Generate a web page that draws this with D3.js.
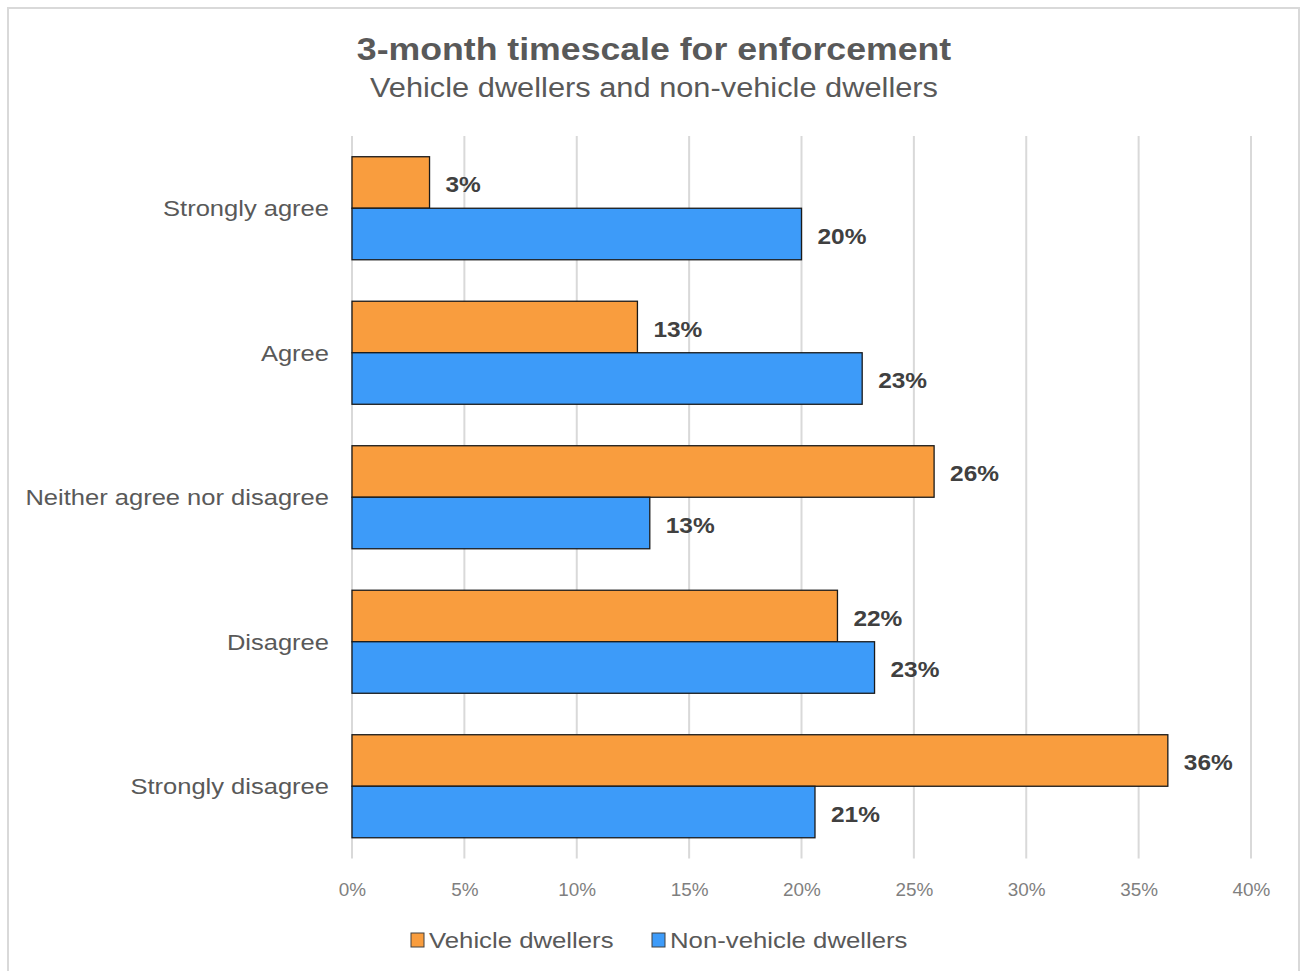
<!DOCTYPE html>
<html><head><meta charset="utf-8">
<script src="https://cdn.jsdelivr.net/npm/d3@7"></script>
<style>body{margin:0;background:#fff;}svg{display:block;font-family:"Liberation Sans",Arial,sans-serif;}</style>
</head><body>
<svg id="c" width="1303" height="971"></svg>
<script>
const categories = ["Strongly agree","Agree","Neither agree nor disagree","Disagree","Strongly disagree"];
const seriesNames = ["Vehicle dwellers","Non-vehicle dwellers"];
const vehicle = [3.45, 12.7, 25.9, 21.6, 36.3];
const nonVehicle = [20.0, 22.7, 13.25, 23.25, 20.6];
const colors = ["#F99D3E","#3D9BF9"];
const ticks = [0,5,10,15,20,25,30,35,40];

const svg = d3.select("#c");
function stretch(sel, f){
  sel.each(function(){
    const w = this.getComputedTextLength();
    d3.select(this).attr("textLength", w*f).attr("lengthAdjust","spacingAndGlyphs");
  });
}
// outer border
svg.append("rect").attr("x",8).attr("y",8).attr("width",1291).attr("height",975)
  .attr("fill","#fff").attr("stroke","#d9d9d9").attr("stroke-width",2);

const m = {left:352, right:1251, top:136, bottom:858.5};
const x = d3.scaleLinear().domain([0,40]).range([m.left,m.right]);
const y = d3.scaleBand().domain(categories).range([m.top,m.bottom]).paddingInner(0.287).paddingOuter(0.1435);
const ys = d3.scaleBand().domain(seriesNames).range([0,y.bandwidth()]);

// title
stretch(svg.append("text").attr("x",654).attr("y",60).attr("text-anchor","middle")
  .attr("font-size",31).attr("font-weight","bold").attr("fill","#595959").text("3-month timescale for enforcement"), 1.15);
stretch(svg.append("text").attr("x",654).attr("y",97).attr("text-anchor","middle")
  .attr("font-size",27).attr("fill","#595959").text("Vehicle dwellers and non-vehicle dwellers"), 1.14);

// gridlines
svg.append("g").selectAll("line").data(ticks).join("line")
  .attr("x1",d=>x(d)).attr("x2",d=>x(d)).attr("y1",m.top).attr("y2",m.bottom)
  .attr("stroke","#d9d9d9").attr("stroke-width",2);

// x axis tick labels
const xAxis = d3.axisBottom(x).tickValues(ticks).tickFormat(d=>d+"%").tickSize(0).tickPadding(0);
const gx = svg.append("g").attr("transform",`translate(0,${m.bottom})`).call(xAxis);
gx.select(".domain").remove();
gx.selectAll("text").attr("font-size",18).attr("fill","#7f7f7f").attr("dy",null).attr("y",37)
  .attr("font-family","Liberation Sans, Arial, sans-serif");
stretch(gx.selectAll("text"),1.05);

// y axis labels
const yAxis = d3.axisLeft(y).tickSize(0).tickPadding(23);
const gy = svg.append("g").attr("transform",`translate(${m.left},1)`).call(yAxis);
gy.select(".domain").remove();
gy.selectAll("text").attr("font-size",22).attr("fill","#595959").attr("font-family","Liberation Sans, Arial, sans-serif");
stretch(gy.selectAll("text"),1.16);

// bars
const data = [vehicle, nonVehicle];
data.forEach((vals,si)=>{
  const g = svg.append("g");
  g.selectAll("rect").data(vals).join("rect")
    .attr("x",x(0)).attr("y",(d,i)=>y(categories[i])+ys(seriesNames[si]))
    .attr("width",d=>x(d)-x(0)).attr("height",ys.bandwidth())
    .attr("fill",colors[si]).attr("stroke","#1a1a1a").attr("stroke-width",1.3);
  const t = g.selectAll("text").data(vals).join("text")
    .attr("x",d=>x(d)+16).attr("y",(d,i)=>y(categories[i])+ys(seriesNames[si])+ys.bandwidth()/2+2)
    .attr("dy","0.36em").attr("font-size",22).attr("font-weight","bold").attr("fill","#404040")
    .text(d=>Math.round(d)+"%");
  stretch(t,1.11);
});

// legend
const leg = svg.append("g");
const legItems = [{n:seriesNames[0],c:colors[0],x:411},{n:seriesNames[1],c:colors[1],x:652}];
legItems.forEach(it=>{
  leg.append("rect").attr("x",it.x).attr("y",933).attr("width",13).attr("height",14)
    .attr("fill",it.c).attr("stroke","#404040").attr("stroke-width",1);
  stretch(leg.append("text").attr("x",it.x+18).attr("y",948).attr("font-size",22).attr("fill","#595959").text(it.n),1.17);
});
</script>
</body></html>
